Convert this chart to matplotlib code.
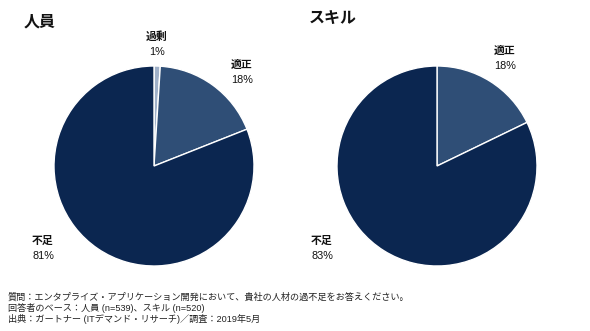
import matplotlib
matplotlib.use("Agg")
import matplotlib.pyplot as plt

plt.rcParams['font.family'] = ['Liberation Sans', 'Noto Sans CJK JP', 'DejaVu Sans']

titles = ["人員", "スキル"]
left_labels = ["過剰", "適正", "不足"]
left_values = [1, 18, 81]
right_labels = ["適正", "不足"]
right_values = [18, 83]
notes = [
    "質問：エンタプライズ・アプリケーション開発において、貴社の人材の過不足をお答えください。",
    "回答者のベース：人員 (n=539)、スキル (n=520)",
    "出典：ガートナー (ITデマンド・リサーチ)／調査：2019年5月",
]

c_dark = "#0b2650"
c_mid = "#2f4e76"
c_light = "#9fb0c8"

W, H = 590, 331
fig = plt.figure(figsize=(W / 100, H / 100), dpi=100)
ax = fig.add_axes([0, 0, 1, 1])

R = 100
wedge = dict(edgecolor='white', linewidth=1.0)
ax.pie(left_values, colors=[c_light, c_mid, c_dark], startangle=90, counterclock=False,
       center=(154, H - 166), radius=R, wedgeprops=wedge, frame=True)
ax.pie(right_values, colors=[c_mid, c_dark], startangle=90, counterclock=False,
       center=(437, H - 166), radius=R, wedgeprops=wedge, frame=True)
ax.set_xlim(0, W)
ax.set_ylim(0, H)
ax.set_aspect('equal')
ax.axis('off')

fs = 7.8
def lab(x, y, name, val):
    ax.text(x, H - y, name, ha='center', va='center', fontsize=fs, fontweight='bold', color='#111111')
    ax.text(x, H - y - 15, f"{val}%", ha='center', va='center', fontsize=fs, color='#111111')

lab(157, 37, left_labels[0], left_values[0])
lab(242, 65, left_labels[1], left_values[1])
lab(43, 241, left_labels[2], left_values[2])
lab(505, 51, right_labels[0], right_values[0])
lab(322, 241, right_labels[1], right_values[1])

ax.text(24, H - 22, titles[0], ha='left', va='center', fontsize=11.5, fontweight='bold', color='#111111')
ax.text(309, H - 19, titles[1], ha='left', va='center', fontsize=11.5, fontweight='bold', color='#111111')

for i, t in enumerate(notes):
    ax.text(8, H - (297 + i * 11), t, ha='left', va='center', fontsize=6.6, color='#222222')

fig.savefig("out.png", dpi=100)
